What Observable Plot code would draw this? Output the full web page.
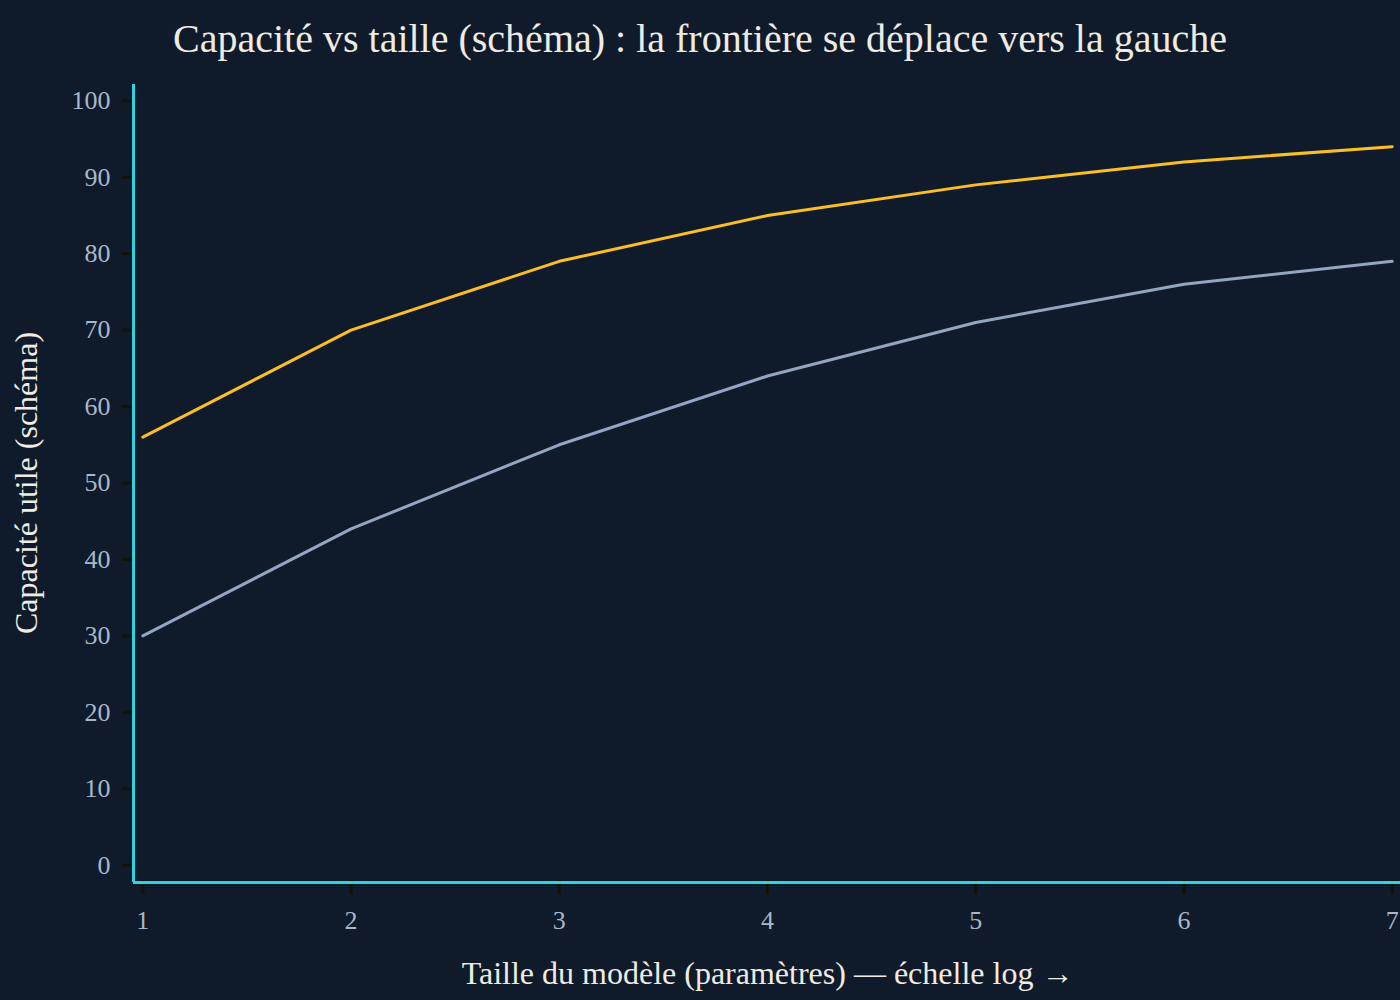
<!DOCTYPE html>
<html><head><meta charset="utf-8">
<script src="https://cdn.jsdelivr.net/npm/d3@7"></script>
<script src="https://cdn.jsdelivr.net/npm/@observablehq/plot@0.6"></script>
<style>
html,body{margin:0;padding:0;background:#0f1b2a;width:1400px;height:1000px;overflow:hidden}
#title{height:70px;box-sizing:border-box;padding-top:8px;line-height:62px;text-align:center;font-family:"Liberation Serif",serif;font-size:40px;color:#efebe2;white-space:nowrap}
#chart svg{display:block}
</style></head><body>
<div id="title"></div>
<div id="chart"></div>
<script>
const titleText = "Capacité vs taille (schéma) : la frontière se déplace vers la gauche";
const xLabel = "Taille du modèle (paramètres) — échelle log →";
const yLabel = "Capacité utile (schéma)";
const sizes = [1, 2, 3, 4, 5, 6, 7];
const frontierValues = [56, 70, 79, 85, 89, 92, 94];
const baselineValues = [30, 44, 55, 64, 71, 76, 79];
const seriesNames = ["Frontière", "Référence"];
const seriesColors = ["#fbbf24", "#92a5c3"];
const xTicks = [1, 2, 3, 4, 5, 6, 7];
const yTicks = [0, 10, 20, 30, 40, 50, 60, 70, 80, 90, 100];

document.getElementById("title").textContent = titleText;

const rows = [];
sizes.forEach((s, i) => {
  rows.push({size: s, value: baselineValues[i], series: seriesNames[1]});
});
sizes.forEach((s, i) => {
  rows.push({size: s, value: frontierValues[i], series: seriesNames[0]});
});

const cyan = "#2ed3e2";
const tickColor = "#111309";
const tickText = "#a8b8cc";
const labelColor = "#efebe2";

const chart = Plot.plot({
  width: 1400,
  height: 930,
  marginTop: 15,
  marginBottom: 120,
  marginLeft: 134,
  marginRight: 0,
  style: {background: "transparent", fontFamily: "'Liberation Serif', serif", fontSize: "26px", color: tickText, overflow: "visible"},
  x: {domain: [0.96, 7.04]},
  y: {domain: [-2, 102]},
  color: {domain: seriesNames, range: seriesColors},
  marks: [
    Plot.axisY({ticks: yTicks, tickSize: 12, tickPadding: 12, stroke: tickColor, strokeWidth: 3, fill: tickText, label: null, tickFormat: d => String(d)}),
    Plot.axisX({ticks: xTicks, tickSize: 14, tickPadding: 16, stroke: tickColor, strokeWidth: 3, fill: tickText, label: null, tickFormat: d => String(d)}),
    Plot.frame({anchor: "left", stroke: cyan, strokeWidth: 3, dx: -1}),
    Plot.frame({anchor: "bottom", stroke: cyan, strokeWidth: 3, dy: 2}),
    Plot.line(rows, {x: "size", y: "value", z: "series", stroke: "series", strokeWidth: 3}),
    Plot.text([yLabel], {text: d => d, frameAnchor: "left", textAnchor: "middle", lineAnchor: "middle", rotate: -90, dx: -108, fill: labelColor, fontSize: 32}),
    Plot.text([xLabel], {text: d => d, frameAnchor: "bottom", textAnchor: "middle", lineAnchor: "middle", dy: 93, fill: labelColor, fontSize: 32})
  ]
});
document.getElementById("chart").appendChild(chart);
</script>
</body></html>
